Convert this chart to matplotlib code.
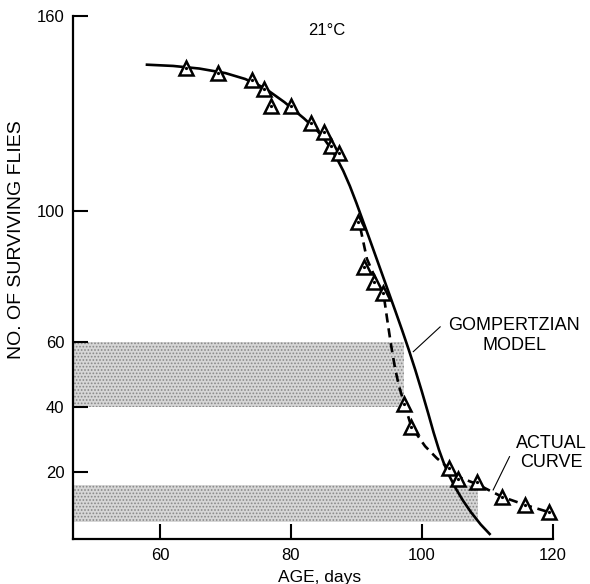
import matplotlib
matplotlib.use('Agg')
import matplotlib.pyplot as plt

plt.rcParams['font.family'] = ['Liberation Sans', 'DejaVu Sans']
plt.rcParams['hatch.linewidth'] = 0.8

# observed survivors (triangles)
obs_age = [63.9, 68.9, 74.0, 75.9, 76.9, 80.0, 83.0, 85.0, 86.1, 87.3,
           90.2, 91.2, 92.7, 94.05, 97.35, 98.4, 104.1, 105.6, 108.5, 112.25, 115.8, 119.4]
obs_flies = [144.1, 142.3, 140.4, 137.4, 132.4, 132.4, 127.2, 124.4, 120.1, 118.0,
             96.7, 82.9, 78.4, 74.9, 40.8, 34.0, 21.3, 17.9, 17.1, 12.5, 10.0, 7.8]

# Gompertzian model (solid curve)
gomp_age = [57.8, 62, 66, 70, 73, 76, 79, 82, 84, 85, 86, 87, 88, 89, 90, 91, 92, 93,
            94, 95, 96, 97, 98, 99, 100, 101, 101.8, 102.6, 103.4, 104.2, 105.2,
            106.3, 107.5, 109.0, 110.5]
gomp_flies = [145.0, 144.6, 143.8, 142.4, 140.6, 137.8, 133.5, 128.5, 124.8, 122.4,
              119.6, 116.3, 112.4, 107.8, 102.6, 97.1, 91.6, 86.0, 80.4, 74.8, 69.2,
              63.5, 57.6, 51.4, 44.8, 37.9, 32.2, 27.0, 22.6, 18.9, 15.0, 11.3, 7.8,
              4.0, 0.8]

# actual curve (dashed)
actual_age = [90.6, 91.6, 92.9, 94.2, 94.7, 95.3, 95.9, 96.5, 97.35, 98.4, 100.5,
              102.3, 104.1, 105.6, 108.5, 112.25, 115.8, 119.4]
actual_flies = [95.0, 85.5, 79.5, 74.0, 67.0, 59.0, 52.0, 46.5, 40.8, 34.0, 28.0,
                24.3, 21.3, 18.6, 16.3, 12.5, 10.0, 7.8]

# shaded bands: (low, high, right edge age)
band_low = [40, 4.8]
band_high = [60, 16.1]
band_right = [97.2, 108.6]

x_ticks = [60, 80, 100, 120]
y_ticks = [20, 40, 60, 100, 160]

XMIN, XMAX = 46.65, 120
YMIN, YMAX = -0.6, 160

fig = plt.figure(figsize=(5.9, 5.84), dpi=100)
ax = fig.add_axes([0.1232, 0.0762, 0.8136, 0.8969])
ax.set_xlim(XMIN, XMAX)
ax.set_ylim(YMIN, YMAX)

for lo, hi, r in zip(band_low, band_high, band_right):
    ax.fill_between([XMIN, r], lo, hi, facecolor='#d6d6d6', hatch='.....',
                    edgecolor='#888888', linewidth=0, zorder=1)

ax.plot(gomp_age, gomp_flies, color='black', lw=1.9, zorder=3, solid_capstyle='butt')
ax.plot(actual_age, actual_flies, color='black', lw=1.9, dashes=(3.5, 2.2), zorder=3)
ax.plot(obs_age, obs_flies, linestyle='none', marker='^', markersize=10.5,
        markerfacecolor='white', markeredgecolor='black', markeredgewidth=1.8,
        zorder=5, clip_on=False)
ax.plot(obs_age, obs_flies, linestyle='none', marker='o', markersize=1.3,
        color='black', zorder=6, clip_on=False)

for s in ['top', 'right']:
    ax.spines[s].set_visible(False)
for s in ['left', 'bottom']:
    ax.spines[s].set_linewidth(1.6)

ax.set_xticks(x_ticks)
ax.set_yticks(y_ticks)
ax.tick_params(direction='in', length=11, width=1.5, labelsize=12, pad=6)

ax.set_xlabel('AGE, days', fontsize=12.5)
ax.xaxis.set_label_coords(0.515, -0.058)
ax.set_ylabel('NO. OF SURVIVING FLIES', fontsize=14)
ax.yaxis.set_label_coords(-0.099, 0.572)

ax.text(85.5, 155.5, '21°C', fontsize=12, ha='center', va='center')

ax.text(114.1, 61.9, 'GOMPERTZIAN\nMODEL', fontsize=13, ha='center', va='center',
        multialignment='center', clip_on=False)
ax.plot([98.7, 102.8], [57.0, 64.6], color='black', lw=0.8, clip_on=False)

ax.text(119.8, 25.9, 'ACTUAL\nCURVE', fontsize=13, ha='center', va='center',
        multialignment='center', clip_on=False)
ax.plot([110.9, 113.4], [14.6, 24.8], color='black', lw=0.8, clip_on=False)

fig.savefig('out.png', dpi=100)
